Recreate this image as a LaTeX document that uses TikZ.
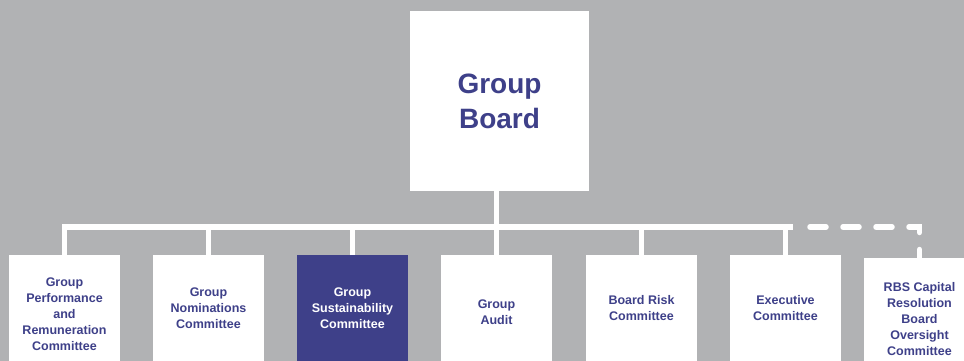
\documentclass[tikz,border=0pt]{standalone}
\usepackage{fontspec}
\setmainfont{Liberation Sans}
\usepackage{tikz}
\usetikzlibrary{positioning}
\definecolor{rbsblue}{RGB}{62,64,137}
\definecolor{rbsgray}{RGB}{177,178,180}
\tikzset{
    board/.style={draw=none, fill=white, text=rbsblue, align=center,
        minimum width=179pt, minimum height=180pt, inner sep=0pt,
        font=\fontsize{28}{35}\selectfont\bfseries},
    committee/.style={draw=none, fill=white, text=rbsblue, align=center,
        minimum width=111pt, minimum height=106pt, inner sep=0pt, anchor=north,
        font=\fontsize{12.5}{16}\selectfont\bfseries},
    committeehi/.style={committee, fill=rbsblue, text=white},
    link/.style={draw=white, line width=5.5pt, line join=miter},
    linkdashed/.style={link, line cap=round, dash pattern=on 16pt off 17pt, dash phase=16pt},
}

\begin{document}
\begin{tikzpicture}[x=1pt, y=-1pt]
	\fill[rbsgray] (0,0) rectangle (964,361);
	\useasboundingbox (0,0) rectangle (964,361);
	% board and committees
	\node[board] (gb) at (499.5,101) {Group\\Board};
	\node[committee, minimum height=117pt] (perf) at (64.5,255) {Group\\Performance\\and\\Remuneration\\Committee};
	\node[committee] (nom) at (208.5,255) {Group\\Nominations\\Committee};
	\node[committeehi] (sust) at (352.5,255) {Group\\Sustainability\\Committee};
	\node[committee, minimum height=113pt] (audit) at (496.5,255) {Group\\Audit};
	\node[committee] (risk) at (641.5,255) {Board Risk\\Committee};
	\node[committee] (exec) at (785.5,255) {Executive\\Committee};
	\node[committee, minimum height=122pt] (rbscap) at (919.5,258) {RBS Capital\\Resolution\\Board\\Oversight\\Committee};
	% connectors
	\coordinate (bus) at (497,227);
	\coordinate (busend) at (793,227);
	\draw[link] (audit.north |- gb.south) -- (audit.north |- bus);
	\draw[link] (perf.north) |- (busend);
	\draw[link] (nom.north) -- (nom.north |- bus);
	\draw[link] (sust.north) -- (sust.north |- bus);
	\draw[link] (audit.north) -- (audit.north |- bus);
	\draw[link] (risk.north) -- (risk.north |- bus);
	\draw[link] (exec.north) -- (exec.north |- bus);
	\draw[linkdashed] (busend) -| (rbscap.north);
\end{tikzpicture}
\end{document}
